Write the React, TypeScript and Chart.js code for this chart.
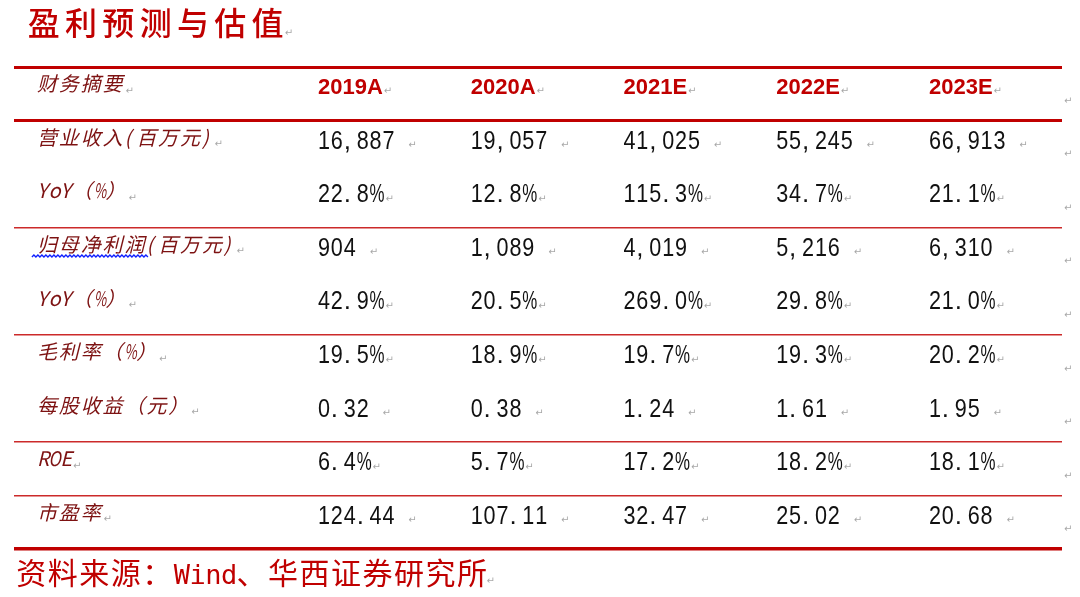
import { useEffect, useRef } from 'react';
import { Chart, registerables } from 'chart.js';

Chart.register(...registerables);

// ---------- data ----------
const titleText = '盈利预测与估值';
const sourceText = '资料来源：Wind、华西证券研究所';
const headerLabel = '财务摘要';
const years = ['2019A', '2020A', '2021E', '2022E', '2023E'];
const rowLabels = [
  '营业收入(百万元)',
  'YoY（%）',
  '归母净利润(百万元)',
  'YoY（%）',
  '毛利率（%）',
  '每股收益（元）',
  'ROE',
  '市盈率',
];
const revenue = [16887, 19057, 41025, 55245, 66913];
const revenueYoY = [22.8, 12.8, 115.3, 34.7, 21.1];
const netProfit = [904, 1089, 4019, 5216, 6310];
const netProfitYoY = [42.9, 20.5, 269.0, 29.8, 21.0];
const grossMargin = [19.5, 18.9, 19.7, 19.3, 20.2];
const eps = [0.32, 0.38, 1.24, 1.61, 1.95];
const roe = [6.4, 5.7, 17.2, 18.2, 18.1];
const pe = [124.44, 107.11, 32.47, 25.02, 20.68];
const rowFormats = ['int', 'pct', 'int', 'pct', 'pct', 'dec2', 'pct', 'dec2'];
const groupEndRows = [0, 2, 4, 6, 7, 8]; // a rule is drawn below each of these rows

const rowValues = [revenue, revenueYoY, netProfit, netProfitYoY, grossMargin, eps, roe, pe];

// ---------- layout constants ----------
const LABEL_COL = -0.84;
const TITLE_X = -0.9;
const SOURCE_X = -0.975;
const TITLE_ROW = -1.33;
const SOURCE_ROW = 8.93;
const TEXT_SHIFT = -0.15;
const RED = '#c00000';
const LABEL_COLOR = '#7d1212';
const MARK_COLOR = '#a8a8a8';
const CJK = '"Noto Sans CJK SC"';

function fmt(v: number, kind: string): string {
  if (kind === 'int') return v.toLocaleString('en-US');
  if (kind === 'pct') return v.toFixed(1) + '%';
  return v.toFixed(2);
}

type RunOpts = {
  cjkFont: string;
  latinFont: string;
  fw: number;
  hw: number;
  fit?: (ch: string, adv: number) => number;
};

function drawRun(ctx: CanvasRenderingContext2D, text: string, x: number, y: number, o: RunOpts) {
  let cx = x;
  for (const ch of text) {
    const wide = ch.charCodeAt(0) >= 0x2e80;
    ctx.font = wide ? o.cjkFont : o.latinFont;
    const adv = wide ? o.fw : o.hw;
    let sx = 1;
    if (!wide && o.fit) {
      const w = ctx.measureText(ch).width;
      const target = o.fit(ch, adv);
      if (w > target) sx = target / w;
    }
    ctx.save();
    ctx.translate(cx, y);
    ctx.scale(sx, 1);
    ctx.fillText(ch, 0, 0);
    ctx.restore();
    cx += adv;
  }
  return cx;
}

function drawMark(ctx: CanvasRenderingContext2D, x: number, y: number) {
  ctx.save();
  ctx.font = '10px "DejaVu Sans"';
  ctx.fillStyle = MARK_COLOR;
  ctx.textBaseline = 'alphabetic';
  ctx.fillText('↵', x, y);
  ctx.restore();
}

const tablePlugin = {
  id: 'tableText',
  afterDraw(chart: any) {
    const ctx: CanvasRenderingContext2D = chart.ctx;
    const xs = chart.scales.x;
    const ys = chart.scales.y;
    const rowY = (r: number) => ys.getPixelForValue(r + TEXT_SHIFT);
    ctx.save();
    ctx.textBaseline = 'alphabetic';
    ctx.textAlign = 'left';

    // title
    ctx.fillStyle = RED;
    const tY = ys.getPixelForValue(TITLE_ROW);
    const tEnd = drawRun(ctx, titleText, xs.getPixelForValue(TITLE_X), tY + 12, {
      cjkFont: `500 32px ${CJK}`,
      latinFont: `500 32px ${CJK}`,
      fw: 37.3,
      hw: 18,
    });
    drawMark(ctx, tEnd - 4, tY + 13);

    // header row
    const labelOpts: RunOpts = {
      cjkFont: `italic 20px ${CJK}`,
      latinFont: `italic 20px ${CJK}`,
      fw: 21.9,
      hw: 11.7,
      fit: (ch, adv) => adv * 1.05,
    };
    const hY = rowY(0);
    ctx.fillStyle = LABEL_COLOR;
    const hEnd = drawRun(ctx, headerLabel, xs.getPixelForValue(LABEL_COL), hY + 5.6, labelOpts);
    drawMark(ctx, hEnd + 1, hY + 8);
    years.forEach((yr, c) => {
      const x = xs.getPixelForValue(c + 1);
      ctx.font = `bold 22px "Liberation Sans"`;
      ctx.fillStyle = RED;
      ctx.fillText(yr, x, hY + 8);
      const w = ctx.measureText(yr).width;
      drawMark(ctx, x + w + 1, hY + 8);
    });
    drawMark(ctx, xs.right + 2, hY + 18);

    // body rows
    const valueOpts: RunOpts = {
      cjkFont: `26px "Liberation Sans"`,
      latinFont: `26px "Liberation Sans"`,
      fw: 25.8,
      hw: 12.9,
      fit: (ch, adv) => (ch === '%' ? 15 : adv * 0.93),
    };
    rowLabels.forEach((label, i) => {
      const r = i + 1;
      const yc = rowY(r);
      ctx.fillStyle = LABEL_COLOR;
      const lx = xs.getPixelForValue(LABEL_COL);
      const lEnd = drawRun(ctx, label, lx, yc + 5.6, labelOpts);
      drawMark(ctx, lEnd + 1, yc + 8);
      if (label.startsWith('归母')) {
        // spell-check squiggle under the first five characters
        ctx.save();
        ctx.strokeStyle = '#1020ff';
        ctx.lineWidth = 1.4;
        ctx.beginPath();
        const x0 = lx - 5;
        const x1 = lx + 5 * labelOpts.fw + 3;
        const yb = yc + 10.5;
        let up = true;
        ctx.moveTo(x0, yb);
        for (let x = x0 + 2; x <= x1; x += 2) {
          ctx.lineTo(x, up ? yb - 2 : yb);
          up = !up;
        }
        ctx.stroke();
        ctx.restore();
      }
      const kind = rowFormats[i];
      rowValues[i].forEach((v, c) => {
        const x = xs.getPixelForValue(c + 1);
        ctx.fillStyle = '#111111';
        const end = drawRun(ctx, fmt(v, kind), x, yc + 9.5, valueOpts);
        drawMark(ctx, end + (kind === 'pct' ? 3 : 13), yc + 9);
      });
      drawMark(ctx, xs.right + 2, yc + 18);
    });

    // source
    const sY = ys.getPixelForValue(SOURCE_ROW);
    ctx.fillStyle = RED;
    const sEnd = drawRun(ctx, sourceText, xs.getPixelForValue(SOURCE_X), sY + 11.5, {
      cjkFont: `30px ${CJK}`,
      latinFont: `27px "DejaVu Sans Mono"`,
      fw: 31.5,
      hw: 15.7,
    });
    drawMark(ctx, sEnd - 2, sY + 12);
    ctx.restore();
  },
};

const ruleValues = [-0.5, ...groupEndRows.map((r) => r + 0.5)];

export default function App() {
  const ref = useRef<HTMLCanvasElement>(null);
  useEffect(() => {
    const points: { x: number; y: number }[] = [];
    years.forEach((_, c) => points.push({ x: c + 1, y: 0 }));
    rowValues.forEach((vals, r) => vals.forEach((_, c) => points.push({ x: c + 1, y: r + 1 })));
    const chart = new Chart(ref.current as HTMLCanvasElement, {
      type: 'scatter',
      data: {
        datasets: [
          {
            data: points,
            pointRadius: 0,
            pointHoverRadius: 0,
          },
        ],
      },
      options: {
        animation: false,
        responsive: true,
        maintainAspectRatio: false,
        events: [],
        layout: { padding: { left: 14, right: 18, top: 0, bottom: 0 } },
        plugins: { legend: { display: false }, tooltip: { enabled: false }, title: { display: false } },
        scales: {
          x: { type: 'linear', display: false, min: -0.99, max: 5.871 },
          y: {
            type: 'linear',
            reverse: true,
            min: -1.751,
            max: 9.395,
            display: true,
            border: { display: false },
            ticks: { display: false },
            grid: {
              drawTicks: false,
              color: (c: any) => (c.index <= 1 || c.index === ruleValues.length - 1 ? RED : '#cc2a2a'),
              lineWidth: (c: any) =>
                c.index === ruleValues.length - 1 ? 3.5 : c.index <= 1 ? 3 : 1.6,
            },
            afterBuildTicks: (axis: any) => {
              axis.ticks = ruleValues.map((v) => ({ value: v }));
            },
            afterFit: (axis: any) => {
              axis.width = 0;
            },
          },
        },
      },
      plugins: [tablePlugin],
    } as any);
    return () => chart.destroy();
  }, []);
  return (
    <div style={{ position: 'fixed', left: 0, top: 0, width: 1080, height: 597, background: '#ffffff' }}>
      <canvas ref={ref} />
    </div>
  );
}
